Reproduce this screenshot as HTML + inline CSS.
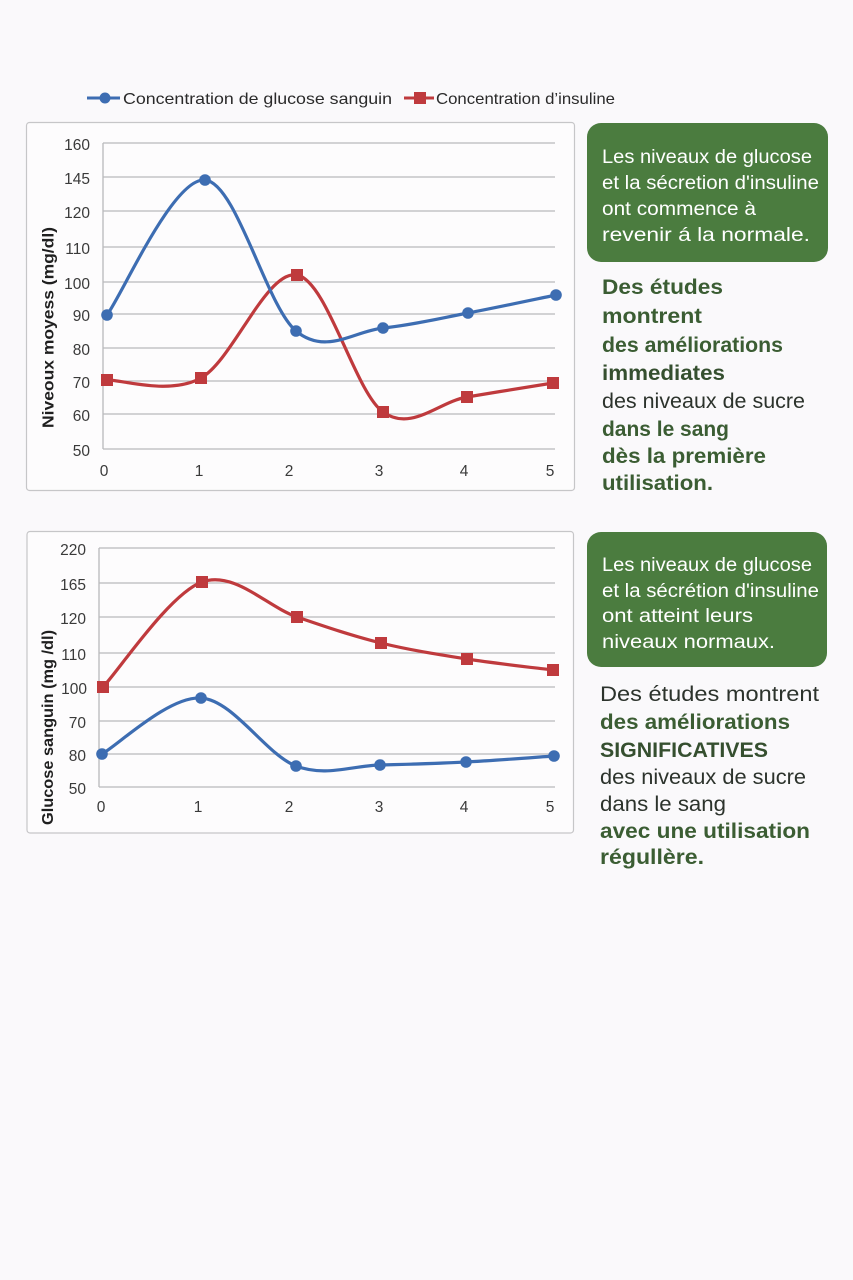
<!DOCTYPE html>
<html>
<head>
<meta charset="utf-8">
<style>
  html,body{margin:0;padding:0;background:#faf9fb;}
  svg{display:block;}
  .tick{font-family:"Liberation Sans",sans-serif;font-size:15.5px;fill:#3a3a3a;}
  .ytitle{font-family:"Liberation Sans",sans-serif;font-size:16px;font-weight:bold;fill:#1f1f1f;}
  .leg{font-family:"Liberation Sans",sans-serif;font-size:16px;fill:#2a2a2a;}
  .box{font-family:"Liberation Sans",sans-serif;font-size:19px;fill:#ffffff;}
  .b{font-family:"Liberation Sans",sans-serif;font-size:21px;font-weight:bold;fill:#3b5d33;}
  .r{font-family:"Liberation Sans",sans-serif;font-size:21px;fill:#2c332c;}
</style>
</head>
<body>
<svg width="853" height="1280" viewBox="0 0 853 1280" xmlns="http://www.w3.org/2000/svg">
  <rect x="0" y="0" width="853" height="1280" fill="#faf9fb"/>

  <!-- Legend -->
  <line x1="87" y1="98" x2="120" y2="98" stroke="#3d6db2" stroke-width="3"/>
  <circle cx="105" cy="98" r="5.5" fill="#3d6db2"/>
  <text class="leg" x="123" y="104" textLength="269" lengthAdjust="spacingAndGlyphs">Concentration de glucose sanguin</text>
  <line x1="404" y1="98" x2="434" y2="98" stroke="#bf3a3d" stroke-width="3"/>
  <rect x="414" y="92" width="12" height="12" fill="#bf3a3d"/>
  <text class="leg" x="436" y="104" textLength="179" lengthAdjust="spacingAndGlyphs">Concentration d’insuline</text>

  <!-- Chart 1 frame -->
  <rect x="26.5" y="122.5" width="548" height="368" rx="3" fill="#fdfcfd" stroke="#c6c6c8" stroke-width="1.2"/>
  <g stroke="#b9b9bb" stroke-width="1.3">
    <line x1="103" y1="143" x2="555" y2="143"/>
    <line x1="103" y1="177" x2="555" y2="177"/>
    <line x1="103" y1="211" x2="555" y2="211"/>
    <line x1="103" y1="247" x2="555" y2="247"/>
    <line x1="103" y1="282" x2="555" y2="282"/>
    <line x1="103" y1="314" x2="555" y2="314"/>
    <line x1="103" y1="348" x2="555" y2="348"/>
    <line x1="103" y1="381" x2="555" y2="381"/>
    <line x1="103" y1="414" x2="555" y2="414"/>
    <line x1="103" y1="449" x2="555" y2="449"/>
    <line x1="103" y1="143" x2="103" y2="449"/>
  </g>
  <g class="tick" text-anchor="end">
    <text x="90" y="150">160</text>
    <text x="90" y="184">145</text>
    <text x="90" y="218">120</text>
    <text x="90" y="254">110</text>
    <text x="90" y="289">100</text>
    <text x="90" y="321">90</text>
    <text x="90" y="355">80</text>
    <text x="90" y="388">70</text>
    <text x="90" y="421">60</text>
    <text x="90" y="456">50</text>
  </g>
  <g class="tick" text-anchor="middle">
    <text x="104" y="476">0</text>
    <text x="199" y="476">1</text>
    <text x="289" y="476">2</text>
    <text x="379" y="476">3</text>
    <text x="464" y="476">4</text>
    <text x="550" y="476">5</text>
  </g>
  <text class="ytitle" transform="translate(53.5,428) rotate(-90)" x="0" y="0" textLength="201" lengthAdjust="spacingAndGlyphs">Niveoux moyess (mg/dl)</text>

  <path d="M107,380 C122.7,379.7 169.3,395.5 201,378 C232.7,360.5 266.7,269.3 297,275 C327.3,280.7 354.7,391.7 383,412 C411.3,432.3 438.7,401.8 467,397 C495.3,392.2 538.7,385.3 553,383" fill="none" stroke="#bf3a3d" stroke-width="3.2" stroke-linejoin="round"/>
  <g fill="#bf3a3d">
    <rect x="101" y="374" width="12" height="12"/>
    <rect x="195" y="372" width="12" height="12"/>
    <rect x="291" y="269" width="12" height="12"/>
    <rect x="377" y="406" width="12" height="12"/>
    <rect x="461" y="391" width="12" height="12"/>
    <rect x="547" y="377" width="12" height="12"/>
  </g>
  <path d="M107,315 C123.3,292.5 173.5,177.3 205,180 C236.5,182.7 266.3,306.3 296,331 C325.7,355.7 354.3,331 383,328 C411.7,325 439.2,318.5 468,313 C496.8,307.5 541.3,298 556,295" fill="none" stroke="#3d6db2" stroke-width="3.2" stroke-linejoin="round"/>
  <g fill="#3d6db2">
    <circle cx="107" cy="315" r="5.8"/>
    <circle cx="205" cy="180" r="5.8"/>
    <circle cx="296" cy="331" r="5.8"/>
    <circle cx="383" cy="328" r="5.8"/>
    <circle cx="468" cy="313" r="5.8"/>
    <circle cx="556" cy="295" r="5.8"/>
  </g>

  <!-- Chart 2 frame -->
  <rect x="27" y="531.5" width="546.5" height="301.5" rx="3" fill="#fdfcfd" stroke="#c6c6c8" stroke-width="1.2"/>
  <g stroke="#b9b9bb" stroke-width="1.3">
    <line x1="99" y1="548" x2="555" y2="548"/>
    <line x1="99" y1="583" x2="555" y2="583"/>
    <line x1="99" y1="617" x2="555" y2="617"/>
    <line x1="99" y1="653" x2="555" y2="653"/>
    <line x1="99" y1="687" x2="555" y2="687"/>
    <line x1="99" y1="721" x2="555" y2="721"/>
    <line x1="99" y1="754" x2="555" y2="754"/>
    <line x1="99" y1="787" x2="555" y2="787"/>
    <line x1="99" y1="548" x2="99" y2="787"/>
  </g>
  <g class="tick" text-anchor="end">
    <text x="86" y="555">220</text>
    <text x="86" y="590">165</text>
    <text x="86" y="624">120</text>
    <text x="86" y="660">110</text>
    <text x="87" y="694">100</text>
    <text x="86" y="728">70</text>
    <text x="86" y="761">80</text>
    <text x="86" y="794">50</text>
  </g>
  <g class="tick" text-anchor="middle">
    <text x="101" y="812">0</text>
    <text x="198" y="812">1</text>
    <text x="289" y="812">2</text>
    <text x="379" y="812">3</text>
    <text x="464" y="812">4</text>
    <text x="550" y="812">5</text>
  </g>
  <text class="ytitle" transform="translate(53,825) rotate(-90)" x="0" y="0" textLength="195" lengthAdjust="spacingAndGlyphs">Glucose sanguin (mg /dl)</text>

  <path d="M103,687 C119.5,669.5 169.7,593.7 202,582 C234.3,570.3 267.2,606.8 297,617 C326.8,627.2 352.7,636 381,643 C409.3,650 438.3,654.5 467,659 C495.7,663.5 538.7,668.2 553,670" fill="none" stroke="#bf3a3d" stroke-width="3.2" stroke-linejoin="round"/>
  <g fill="#bf3a3d">
    <rect x="97" y="681" width="12" height="12"/>
    <rect x="196" y="576" width="12" height="12"/>
    <rect x="291" y="611" width="12" height="12"/>
    <rect x="375" y="637" width="12" height="12"/>
    <rect x="461" y="653" width="12" height="12"/>
    <rect x="547" y="664" width="12" height="12"/>
  </g>
  <path d="M102,754 C118.5,744.7 168.7,696 201,698 C233.3,700 266.2,754.8 296,766 C325.8,777.2 351.7,765.7 380,765 C408.3,764.3 437,763.5 466,762 C495,760.5 539.3,757 554,756" fill="none" stroke="#3d6db2" stroke-width="3.2" stroke-linejoin="round"/>
  <g fill="#3d6db2">
    <circle cx="102" cy="754" r="5.8"/>
    <circle cx="201" cy="698" r="5.8"/>
    <circle cx="296" cy="766" r="5.8"/>
    <circle cx="380" cy="765" r="5.8"/>
    <circle cx="466" cy="762" r="5.8"/>
    <circle cx="554" cy="756" r="5.8"/>
  </g>

  <!-- Green box 1 -->
  <rect x="587" y="123" width="241" height="139" rx="14" fill="#4b7c3f"/>
  <text class="box" x="602" y="163" textLength="210" lengthAdjust="spacingAndGlyphs">Les niveaux de glucose</text>
  <text class="box" x="602" y="189" textLength="217" lengthAdjust="spacingAndGlyphs">et la sécretion d'insuline</text>
  <text class="box" x="602" y="215" textLength="154" lengthAdjust="spacingAndGlyphs">ont commence à</text>
  <text class="box" x="602" y="241" textLength="208" lengthAdjust="spacingAndGlyphs">revenir á la normale.</text>

  <text class="b" x="602" y="294" textLength="121" lengthAdjust="spacingAndGlyphs">Des études</text>
  <text class="b" x="602" y="323" textLength="100" lengthAdjust="spacingAndGlyphs">montrent</text>
  <text class="b" x="602" y="352" textLength="181" lengthAdjust="spacingAndGlyphs">des améliorations</text>
  <text class="b" x="602" y="380" textLength="123" lengthAdjust="spacingAndGlyphs" style="fill:#354f2f">immediates</text>
  <text class="r" x="602" y="408" textLength="203" lengthAdjust="spacingAndGlyphs">des niveaux de sucre</text>
  <text class="b" x="602" y="436" textLength="127" lengthAdjust="spacingAndGlyphs">dans le sang</text>
  <text class="b" x="602" y="463" textLength="164" lengthAdjust="spacingAndGlyphs">dès la première</text>
  <text class="b" x="602" y="490" textLength="111" lengthAdjust="spacingAndGlyphs">utilisation.</text>

  <!-- Green box 2 -->
  <rect x="587" y="532" width="240" height="135" rx="14" fill="#4b7c3f"/>
  <text class="box" x="602" y="571" textLength="210" lengthAdjust="spacingAndGlyphs">Les niveaux de glucose</text>
  <text class="box" x="602" y="597" textLength="217" lengthAdjust="spacingAndGlyphs">et la sécrétion d'insuline</text>
  <text class="box" x="602" y="622" textLength="151" lengthAdjust="spacingAndGlyphs">ont atteint leurs</text>
  <text class="box" x="602" y="648" textLength="173" lengthAdjust="spacingAndGlyphs">niveaux normaux.</text>

  <text class="r" x="600" y="701" textLength="219" lengthAdjust="spacingAndGlyphs">Des études montrent</text>
  <text class="b" x="600" y="729" textLength="190" lengthAdjust="spacingAndGlyphs">des améliorations</text>
  <text class="b" x="600" y="757" textLength="168" lengthAdjust="spacingAndGlyphs" style="fill:#354f2f">SIGNIFICATIVES</text>
  <text class="r" x="600" y="784" textLength="206" lengthAdjust="spacingAndGlyphs">des niveaux de sucre</text>
  <text class="r" x="600" y="811" textLength="126" lengthAdjust="spacingAndGlyphs">dans le sang</text>
  <text class="b" x="600" y="838" textLength="210" lengthAdjust="spacingAndGlyphs">avec une utilisation</text>
  <text class="b" x="600" y="864" textLength="104" lengthAdjust="spacingAndGlyphs">régullère.</text>
</svg>
</body>
</html>
